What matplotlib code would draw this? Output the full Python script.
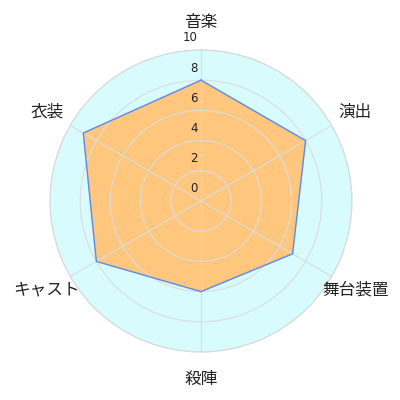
import numpy as np
import matplotlib.pyplot as plt

plt.rcParams['font.family'] = ['Noto Sans CJK JP', 'DejaVu Sans']

# データ
categories = ["音楽", "演出", "舞台装置", "殺陣", "キャスト", "衣装"]
scores = [8, 8, 7, 6, 8, 9]
r_ticks = [0, 2, 4, 6, 8, 10]

n = len(categories)
angles = np.linspace(0, 2 * np.pi, n, endpoint=False)
angles_closed = np.concatenate([angles, angles[:1]])
scores_closed = scores + scores[:1]

fig = plt.figure(figsize=(4, 4), dpi=100)
ax = fig.add_axes([0.125, 0.12, 0.755, 0.755], projection="polar")
ax.set_theta_zero_location("N")
ax.set_theta_direction(-1)
ax.set_ylim(0, 10)

ax.set_facecolor("#d8fbfe")
ax.spines["polar"].set_color("#d6d6d6")
ax.spines["polar"].set_linewidth(0.8)

ax.fill(angles_closed, scores_closed, color="#ffc67d", zorder=2)
ax.plot(angles_closed, scores_closed, color="#5b8def", linewidth=1, zorder=3)

# グリッド
ax.set_xticks(angles)
ax.set_xticklabels([])
ax.set_yticks(r_ticks)
ax.set_yticklabels([])
ax.set_axisbelow(False)
ax.xaxis.grid(True, color="#dcdcdc", linewidth=0.8)
ax.yaxis.grid(True, color="#dcdcdc", linewidth=0.8)

# 目盛りラベル
for t in r_ticks:
    ax.annotate(str(t), xy=(0, t), xytext=(-2.5, 4), textcoords="offset points",
                ha="right", va="bottom", fontsize=8.5, color="#222222",
                family=["DejaVu Sans"], zorder=5)

# 項目ラベル
for ang, cat in zip(angles, categories):
    ax.text(ang, 11.8, cat, ha="center", va="center", fontsize=12,
            color="#222222", clip_on=False)

fig.savefig("out.png", dpi=100)
